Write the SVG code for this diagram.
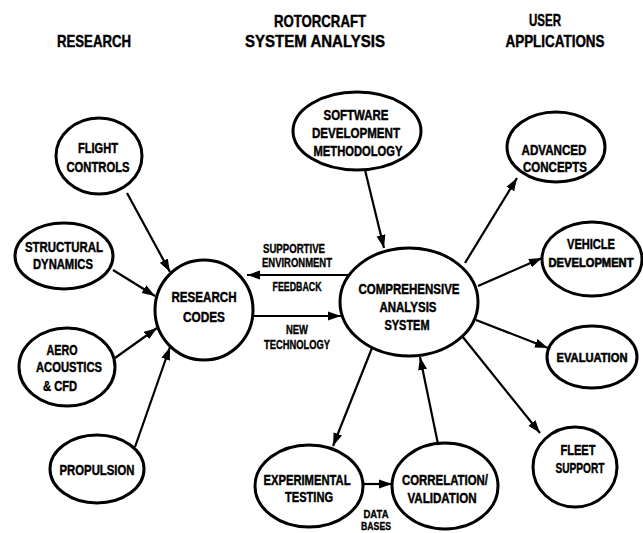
<svg xmlns="http://www.w3.org/2000/svg" width="643" height="533" viewBox="0 0 643 533">
  <style>
    .node { fill: #fff; stroke: #000; stroke-width: 3; }
    text { font-family: "Liberation Sans", Arial, sans-serif; font-weight: bold; fill: #000; stroke: #000; stroke-width: 0.45; text-anchor: middle; }
    .lbl { font-size: 15px; }
    .tight { font-size: 13px; stroke-width: 0.55; }
    .tighter { font-size: 12px; stroke-width: 0.6; }
    .hdr { font-size: 17px; }
    .sm { font-size: 12px; stroke-width: 0.35; }
    .xs { font-size: 10px; stroke-width: 0.3; }
    .edge { stroke: #000; stroke-width: 2.2; fill: none; marker-end: url(#arrow); }
  </style>
  <defs>
    <marker id="arrow" markerUnits="userSpaceOnUse" markerWidth="14" markerHeight="10" refX="13" refY="5" orient="auto">
      <path d="M0,0.5 L13,5 L0,9.5 z" fill="#000"/>
    </marker>
  </defs>
  <rect width="643" height="533" fill="#fff"/>

  <!-- column headings -->
  <g id="headings">
    <text class="hdr" x="94" y="47" textLength="74" lengthAdjust="spacingAndGlyphs">RESEARCH</text>
    <text class="hdr" x="320" y="27" textLength="92" lengthAdjust="spacingAndGlyphs">ROTORCRAFT</text>
    <text class="hdr" x="315" y="47" textLength="140" lengthAdjust="spacingAndGlyphs">SYSTEM ANALYSIS</text>
    <text class="hdr" x="545" y="26" textLength="32" lengthAdjust="spacingAndGlyphs">USER</text>
    <text class="hdr" x="555" y="47" textLength="99" lengthAdjust="spacingAndGlyphs">APPLICATIONS</text>
  </g>

  <!-- connectors and their labels -->
  <g id="connectors">
    <line class="edge" x1="127" y1="193" x2="170" y2="272"/>
    <line class="edge" x1="113" y1="270" x2="155" y2="296"/>
    <line class="edge" x1="115" y1="358" x2="157" y2="328"/>
    <line class="edge" x1="135" y1="447" x2="170" y2="347"/>
    <line class="edge" x1="349" y1="275" x2="247" y2="275"/>
    <line class="edge" x1="253" y1="316" x2="341" y2="316"/>
    <line class="edge" x1="365" y1="170" x2="384" y2="248"/>
    <line class="edge" x1="465" y1="263" x2="517" y2="178"/>
    <line class="edge" x1="478" y1="286" x2="542" y2="258"/>
    <line class="edge" x1="476" y1="320" x2="548" y2="348"/>
    <line class="edge" x1="462" y1="336" x2="540" y2="433"/>
    <line class="edge" x1="372" y1="348" x2="333" y2="446"/>
    <line class="edge" x1="438" y1="444" x2="420" y2="357"/>
    <line class="edge" x1="363" y1="484" x2="392" y2="484"/>
    <text class="sm" x="294" y="253" textLength="62" lengthAdjust="spacingAndGlyphs">SUPPORTIVE</text>
    <text class="sm" x="297" y="267" textLength="70" lengthAdjust="spacingAndGlyphs">ENVIRONMENT</text>
    <text class="sm" x="297" y="291" textLength="49" lengthAdjust="spacingAndGlyphs">FEEDBACK</text>
    <text class="sm" x="297" y="334" textLength="22" lengthAdjust="spacingAndGlyphs">NEW</text>
    <text class="sm" x="297" y="349" textLength="66" lengthAdjust="spacingAndGlyphs">TECHNOLOGY</text>
    <text class="xs" x="376" y="518" textLength="25" lengthAdjust="spacingAndGlyphs">DATA</text>
    <text class="xs" x="376" y="530" textLength="30" lengthAdjust="spacingAndGlyphs">BASES</text>
  </g>

  <g id="flight-controls">
    <ellipse class="node" cx="99" cy="156" rx="43" ry="38"/>
    <text class="lbl" x="98" y="153" textLength="40" lengthAdjust="spacingAndGlyphs">FLIGHT</text>
    <text class="lbl" x="98" y="172" textLength="63" lengthAdjust="spacingAndGlyphs">CONTROLS</text>
  </g>
  <g id="structural-dynamics">
    <ellipse class="node" cx="64" cy="256" rx="49" ry="33"/>
    <text class="lbl" x="64" y="252" textLength="78" lengthAdjust="spacingAndGlyphs">STRUCTURAL</text>
    <text class="lbl" x="63" y="269" textLength="60" lengthAdjust="spacingAndGlyphs">DYNAMICS</text>
  </g>
  <g id="aero-acoustics">
    <ellipse class="node" cx="67" cy="367" rx="48" ry="39"/>
    <text class="lbl" x="62" y="355" textLength="31" lengthAdjust="spacingAndGlyphs">AERO</text>
    <text class="lbl" x="69" y="372" textLength="66" lengthAdjust="spacingAndGlyphs">ACOUSTICS</text>
    <text class="lbl" x="60" y="391" textLength="34" lengthAdjust="spacingAndGlyphs">&amp; CFD</text>
  </g>
  <g id="propulsion">
    <ellipse class="node" cx="97" cy="469" rx="47" ry="34"/>
    <text class="lbl" x="97" y="475" textLength="75" lengthAdjust="spacingAndGlyphs">PROPULSION</text>
  </g>
  <g id="research-codes">
    <ellipse class="node" cx="204" cy="310" rx="49" ry="50"/>
    <text class="lbl" x="204" y="302" textLength="65" lengthAdjust="spacingAndGlyphs">RESEARCH</text>
    <text class="lbl" x="204" y="322" textLength="42" lengthAdjust="spacingAndGlyphs">CODES</text>
  </g>
  <g id="software-methodology">
    <ellipse class="node" cx="357" cy="131" rx="64" ry="39"/>
    <text class="lbl" x="356" y="120" textLength="65" lengthAdjust="spacingAndGlyphs">SOFTWARE</text>
    <text class="lbl" x="356" y="138" textLength="88" lengthAdjust="spacingAndGlyphs">DEVELOPMENT</text>
    <text class="lbl" x="358" y="156" textLength="89" lengthAdjust="spacingAndGlyphs">METHODOLOGY</text>
  </g>
  <g id="comprehensive-analysis">
    <ellipse class="node" cx="409" cy="302" rx="69" ry="54"/>
    <text class="lbl" x="409" y="294" textLength="101" lengthAdjust="spacingAndGlyphs">COMPREHENSIVE</text>
    <text class="lbl" x="408" y="312" textLength="57" lengthAdjust="spacingAndGlyphs">ANALYSIS</text>
    <text class="lbl" x="407" y="330" textLength="45" lengthAdjust="spacingAndGlyphs">SYSTEM</text>
  </g>
  <g id="advanced-concepts">
    <ellipse class="node" cx="556" cy="147" rx="49" ry="35"/>
    <text class="lbl" x="554" y="155" textLength="65" lengthAdjust="spacingAndGlyphs">ADVANCED</text>
    <text class="lbl" x="555" y="172" textLength="64" lengthAdjust="spacingAndGlyphs">CONCEPTS</text>
  </g>
  <g id="vehicle-development">
    <ellipse class="node" cx="592" cy="259" rx="50" ry="37"/>
    <text class="lbl" x="591" y="249" textLength="48" lengthAdjust="spacingAndGlyphs">VEHICLE</text>
    <text class="lbl tighter" x="591" y="267" textLength="85" lengthAdjust="spacingAndGlyphs">DEVELOPMENT</text>
  </g>
  <g id="evaluation">
    <ellipse class="node" cx="592" cy="357" rx="45" ry="31"/>
    <text class="lbl tight" x="592" y="362" textLength="71" lengthAdjust="spacingAndGlyphs">EVALUATION</text>
  </g>
  <g id="fleet-support">
    <ellipse class="node" cx="575" cy="467" rx="42" ry="40"/>
    <text class="lbl" x="578" y="455" textLength="35" lengthAdjust="spacingAndGlyphs">FLEET</text>
    <text class="lbl" x="580" y="473" textLength="49" lengthAdjust="spacingAndGlyphs">SUPPORT</text>
  </g>
  <g id="experimental-testing">
    <ellipse class="node" cx="309" cy="486" rx="54" ry="41"/>
    <text class="lbl" x="307" y="485" textLength="87" lengthAdjust="spacingAndGlyphs">EXPERIMENTAL</text>
    <text class="lbl" x="309" y="502" textLength="48" lengthAdjust="spacingAndGlyphs">TESTING</text>
  </g>
  <g id="correlation-validation">
    <ellipse class="node" cx="445" cy="486" rx="53" ry="43"/>
    <text class="lbl" x="445" y="485" textLength="86" lengthAdjust="spacingAndGlyphs">CORRELATION/</text>
    <text class="lbl" x="442" y="503" textLength="69" lengthAdjust="spacingAndGlyphs">VALIDATION</text>
  </g>
</svg>
